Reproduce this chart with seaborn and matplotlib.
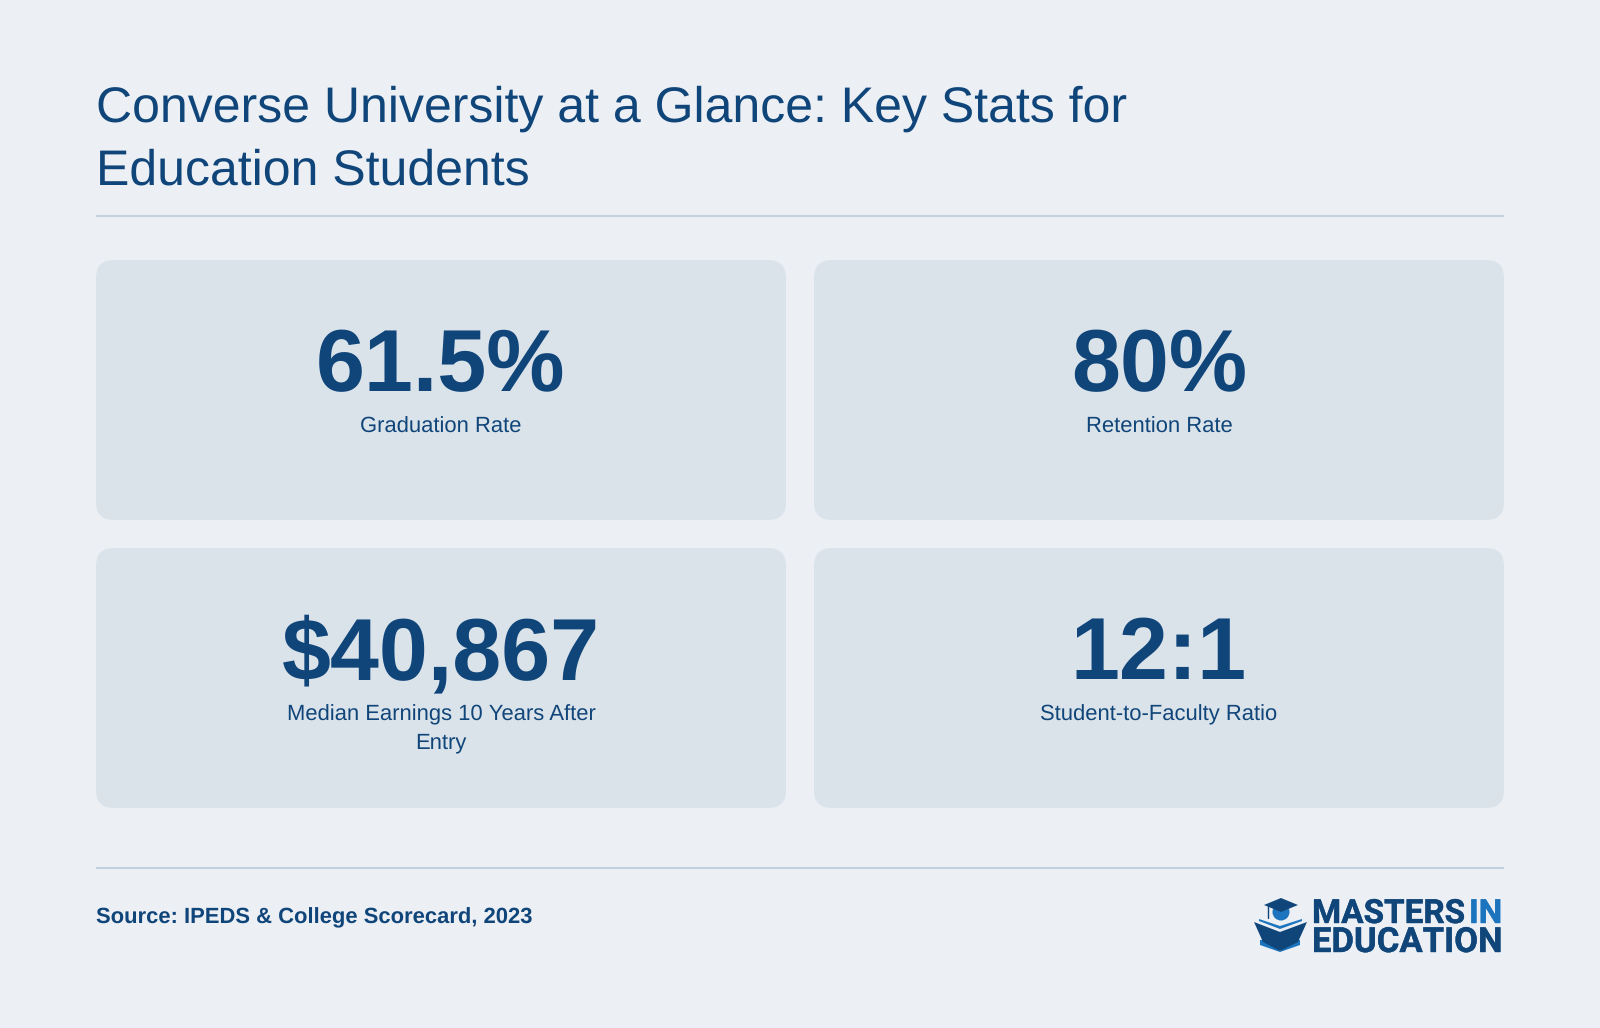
import matplotlib
matplotlib.use("Agg")
import matplotlib.pyplot as plt
import matplotlib.patheffects as pe
import seaborn as sns
from matplotlib.patches import Circle, FancyBboxPatch, Polygon

BG = "#ecf0f5"
CARD = "#dbe3ea"
RULE = "#c3d0e0"
NAVY = "#10457a"
BLUE = "#1b74bd"

title_lines = ["Converse University at a Glance: Key Stats for", "Education Students"]
stat_values = ["61.5%", "80%", "$40,867", "12:1"]
stat_labels = ["Graduation Rate", "Retention Rate", "Median Earnings 10 Years After\nEntry", "Student-to-Faculty Ratio"]
source_text = "Source: IPEDS & College Scorecard, 2023"

W, H = 1600, 1028
LEFT, RIGHT = 96, 1504
CARD_W, CARD_H, GAP = 690, 260, 28
CARD_TOP = 260


def px(size):
    # px to pt at dpi 100
    return size * 0.72


sns.set_theme(style="white", rc={"figure.facecolor": BG, "axes.facecolor": BG})
plt.rcParams["font.family"] = ["Liberation Sans", "DejaVu Sans"]
plt.rcParams["text.hinting"] = "no_hinting"
plt.rcParams["text.hinting_factor"] = 1

fig = plt.figure(figsize=(16, 10.28), dpi=100)
ax = fig.add_axes([0, 0, 1, 1])
ax.set_xlim(0, W)
ax.set_ylim(H, 0)
ax.axis("off")

for i, line in enumerate(title_lines):
    ax.text(LEFT, 122 + i * 63, line, fontsize=px(49.7), color=NAVY, va="baseline", ha="left")

ax.plot([LEFT, RIGHT], [216, 216], color=RULE, lw=1.45, solid_capstyle="butt")
ax.plot([LEFT, RIGHT], [868, 868], color=RULE, lw=1.45, solid_capstyle="butt")

for i, (value, label) in enumerate(zip(stat_values, stat_labels)):
    x0 = LEFT + (i % 2) * (CARD_W + GAP)
    y0 = CARD_TOP + (i // 2) * (CARD_H + 28)
    ax.add_patch(FancyBboxPatch((x0 + 18, y0 + 18), CARD_W - 36, CARD_H - 36,
                                boxstyle="round,pad=18,rounding_size=18", fc=CARD, ec="none"))
    cx = x0 + CARD_W / 2
    ax.text(cx, y0 + 131, value, fontsize=px(88), fontweight="bold", color=NAVY, ha="center", va="baseline")
    for j, part in enumerate(label.split("\n")):
        ax.text(cx, y0 + 172.5 + j * 28, part, fontsize=px(22), color=NAVY, ha="center", va="baseline")

ax.text(LEFT, 923, source_text, fontsize=px(22), fontweight="bold", color=NAVY, ha="left", va="baseline")

# logo wordmark
logo_font = ["Roboto", "DejaVu Sans"]
thicken = [pe.withStroke(linewidth=0.3, foreground=NAVY)]
ax.text(1312, 923, "MASTERS", fontsize=px(33.3), fontweight="bold", color=NAVY, family=logo_font, va="baseline",
        path_effects=thicken)
ax.text(1469, 923, "IN", fontsize=px(33.3), fontweight="bold", color=BLUE, family=logo_font, va="baseline",
        path_effects=[pe.withStroke(linewidth=0.3, foreground=BLUE)])
ax.text(1312, 952, "EDUCATION", fontsize=px(34.6), fontweight="bold", color=NAVY, family=logo_font, va="baseline",
        path_effects=thicken)

# logo icon
ax.add_patch(Circle((1281, 912), 8.5, fc=BLUE, ec="none", zorder=3))
ax.add_patch(Polygon([(1264, 905), (1281, 898), (1298, 905), (1281, 912)], fc=NAVY, ec="none", zorder=4))
ax.plot([1268, 1268], [906, 918], color=NAVY, lw=1, zorder=4)
ax.add_patch(Polygon([(1254, 922), (1280, 932), (1307, 922), (1298, 942), (1280, 951), (1263, 942)],
                     fc=NAVY, ec="none", zorder=3))
ax.add_patch(Polygon([(1259, 919), (1280, 926), (1302, 919), (1302, 921), (1280, 929), (1259, 921)],
                     fc=BLUE, ec="none", zorder=3))
ax.add_patch(Polygon([(1260, 940), (1272, 940), (1280, 951), (1288, 940), (1300, 940), (1300, 945), (1280, 952),
                      (1260, 945)], fc=BLUE, ec="none", zorder=2))

fig.savefig("out.png", dpi=100, facecolor=BG)
